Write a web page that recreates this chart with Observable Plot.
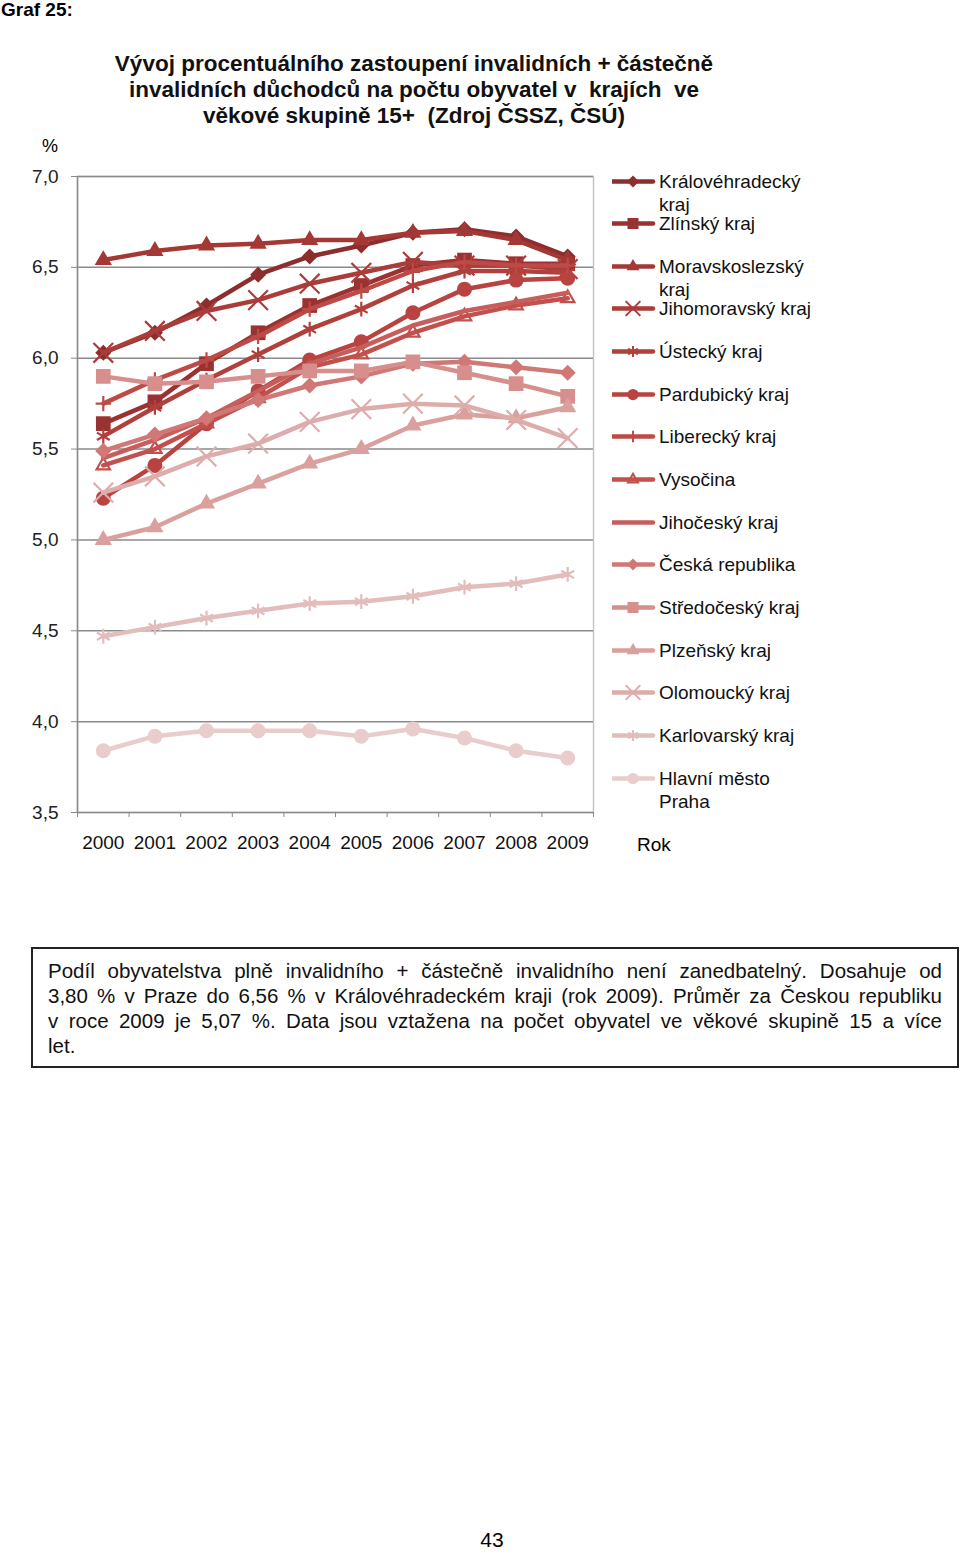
<!DOCTYPE html>
<html>
<head>
<meta charset="utf-8">
<script src="https://cdn.jsdelivr.net/npm/d3@7"></script>
<script src="https://cdn.jsdelivr.net/npm/@observablehq/plot@0.6"></script>
<style>
  html, body { margin: 0; padding: 0; background: #fff; }
  body { width: 960px; height: 1553px; position: relative; font-family: "Liberation Sans", Arial, sans-serif; color: #000; overflow: hidden; }
  .abs { position: absolute; }
  #graf { left: 1px; top: -1px; font-weight: bold; font-size: 19px; }
  #title { left: 64px; width: 700px; top: 51px; text-align: center; font-weight: bold; font-size: 22.5px; line-height: 26px; color: #111; white-space: nowrap; }
  #pct { left: 42px; top: 136px; font-size: 18px; }
  #chart { left: 0; top: 0; }
  .leg { position: absolute; left: 612px; display: flex; align-items: flex-start; }
  .leg svg { flex: none; }
  .leg div { margin-left: 3px; width: 160px; font-size: 19px; line-height: 23px; color: #111; }
  #rok { left: 637px; top: 834px; font-size: 19px; }
  #note { left: 31px; top: 947px; width: 894px; padding: 9px 15px 8px 15px; border: 2px solid #222; font-size: 20.5px; line-height: 25px; color: #111; }
  #note .jl { text-align: justify; text-align-last: justify; white-space: nowrap; }
  #page { left: 0; width: 984px; top: 1528px; text-align: center; font-size: 21px; }
</style>
</head>
<body>
<div id="graf" class="abs">Graf 25:</div>
<div id="title" class="abs">Vývoj procentuálního zastoupení invalidních + částečně<br>invalidních důchodců na počtu obyvatel v&nbsp; krajích&nbsp; ve<br>věkové skupině 15+&nbsp; (Zdroj ČSSZ, ČSÚ)</div>
<div id="pct" class="abs">%</div>
<div id="chart" class="abs"></div>
<div id="legend"></div>
<div id="rok" class="abs">Rok</div>
<div id="note" class="abs">
  <div class="jl">Podíl obyvatelstva plně invalidního + částečně invalidního není zanedbatelný. Dosahuje od</div>
  <div class="jl">3,80 % v Praze do 6,56 % v Královéhradeckém kraji (rok 2009). Průměr za Českou republiku</div>
  <div class="jl">v roce 2009 je 5,07 %. Data jsou vztažena na počet obyvatel ve věkové skupině 15 a více</div>
  <div>let.</div>
</div>
<div id="page" class="abs">43</div>
<script>
// ---- data ----
const years = [2000, 2001, 2002, 2003, 2004, 2005, 2006, 2007, 2008, 2009];
const yTicks = [3.5, 4.0, 4.5, 5.0, 5.5, 6.0, 6.5, 7.0];
const regionNames = [
  "Královéhradecký kraj", "Zlínský kraj", "Moravskoslezský kraj", "Jihomoravský kraj",
  "Ústecký kraj", "Pardubický kraj", "Liberecký kraj", "Vysočina", "Jihočeský kraj",
  "Česká republika", "Středočeský kraj", "Plzeňský kraj", "Olomoucký kraj",
  "Karlovarský kraj", "Hlavní město Praha"
];
const kralovehradecky = [6.03, 6.14, 6.29, 6.46, 6.56, 6.62, 6.69, 6.71, 6.67, 6.56];
const zlinsky         = [5.64, 5.76, 5.97, 6.14, 6.29, 6.40, 6.51, 6.54, 6.52, 6.52];
const moravskoslezsky = [6.54, 6.59, 6.62, 6.63, 6.65, 6.65, 6.69, 6.70, 6.65, 6.54];
const jihomoravsky    = [6.03, 6.15, 6.26, 6.32, 6.41, 6.47, 6.53, 6.51, 6.51, 6.49];
const ustecky         = [5.57, 5.73, 5.88, 6.02, 6.16, 6.27, 6.40, 6.48, 6.48, 6.47];
const pardubicky      = [5.23, 5.41, 5.64, 5.82, 5.99, 6.09, 6.25, 6.38, 6.43, 6.44];
const liberecky       = [5.75, 5.88, 5.99, 6.12, 6.27, 6.37, 6.48, 6.53, 6.51, 6.51];
const vysocina        = [5.41, 5.50, 5.64, 5.78, 5.95, 6.02, 6.14, 6.23, 6.29, 6.33];
const jihocesky       = [5.45, 5.55, 5.67, 5.82, 5.97, 6.06, 6.18, 6.26, 6.31, 6.36];
const ceskaRepublika  = [5.49, 5.58, 5.67, 5.77, 5.85, 5.90, 5.97, 5.98, 5.95, 5.92];
const stredocesky     = [5.90, 5.86, 5.87, 5.90, 5.93, 5.93, 5.98, 5.92, 5.86, 5.79];
const plzensky        = [5.00, 5.07, 5.20, 5.31, 5.42, 5.50, 5.63, 5.69, 5.67, 5.73];
const olomoucky       = [5.26, 5.35, 5.46, 5.53, 5.65, 5.72, 5.75, 5.74, 5.66, 5.56];
const karlovarsky     = [4.47, 4.52, 4.57, 4.61, 4.65, 4.66, 4.69, 4.74, 4.76, 4.81];
const praha           = [3.84, 3.92, 3.95, 3.95, 3.95, 3.92, 3.96, 3.91, 3.84, 3.80];

const seriesValues = [kralovehradecky, zlinsky, moravskoslezsky, jihomoravsky, ustecky,
  pardubicky, liberecky, vysocina, jihocesky, ceskaRepublika, stredocesky, plzensky,
  olomoucky, karlovarsky, praha];

// ---- styles ----
const diamondSym = {
  draw(ctx, size) {
    const h = Math.sqrt(size / 2);
    ctx.moveTo(0, -h); ctx.lineTo(h, 0); ctx.lineTo(0, h); ctx.lineTo(-h, 0); ctx.closePath();
  }
};
const styles = [
  {color: "#8c2e2d", symbol: diamondSym, r: 6.4, filled: true},
  {color: "#9a3231", symbol: "square", r: 8.3, filled: true},
  {color: "#a43835", symbol: "triangle", r: 6.4, filled: true},
  {color: "#aa3c39", symbol: "times", r: 9, filled: false},
  {color: "#b1403d", symbol: "asterisk", r: 7, filled: false},
  {color: "#b84340", symbol: "circle", r: 7.5, filled: true},
  {color: "#bd4a46", symbol: "plus", r: 5, filled: false},
  {color: "#c2504d", symbol: "triangle2", r: 6.4, filled: false},
  {color: "#c85e5b", symbol: null, r: 0, filled: true},
  {color: "#cf7876", symbol: diamondSym, r: 6.4, filled: true},
  {color: "#d68f8d", symbol: "square", r: 8.3, filled: true},
  {color: "#d9a09e", symbol: "triangle", r: 6.4, filled: true},
  {color: "#ddadab", symbol: "times", r: 9, filled: false},
  {color: "#e2bdbc", symbol: "asterisk", r: 7, filled: false},
  {color: "#e8cdcc", symbol: "circle", r: 7.5, filled: true}
];

// ---- chart ----
const xDomain = [years[0] - 0.5, years[years.length - 1] + 0.5];
const bandEdges = d3.range(xDomain[0], xDomain[1] + 0.01, 1);
const fmt = d => d.toFixed(1).replace(".", ",");

const marks = [
  Plot.frame({stroke: "#c4c4c4", strokeWidth: 1.5}),
  Plot.gridY(yTicks, {stroke: "#8a8a8a", strokeOpacity: 1, strokeWidth: 1.5}),
  Plot.ruleX([xDomain[0]], {stroke: "#8a8a8a", strokeWidth: 1.5}),
  Plot.axisY(yTicks, {tickFormat: fmt, tickSize: 6, tickPadding: 13, stroke: "#8a8a8a", fontSize: 19, fill: "#222", label: null}),
  Plot.axisX(bandEdges, {tickSize: 5, tickFormat: () => "", stroke: "#8a8a8a", label: null}),
  Plot.axisX(years, {tickSize: 0, tickPadding: 23, tickFormat: d => String(d), fontSize: 19, fill: "#111", label: null})
];

seriesValues.forEach((vals, i) => {
  const st = styles[i];
  const data = years.map((yr, j) => ({year: yr, value: vals[j]}));
  marks.push(Plot.line(data, {x: "year", y: "value", stroke: st.color, strokeWidth: 4.5, curve: "linear"}));
  if (st.symbol) {
    marks.push(Plot.dot(data, {
      x: "year", y: "value", symbol: () => st.symbol, r: st.r,
      fill: st.filled ? st.color : "none",
      stroke: st.filled ? "none" : st.color,
      strokeWidth: st.filled ? 0 : 2.2
    }));
  }
});

const chart = Plot.plot({
  width: 600,
  height: 880,
  marginLeft: 77,
  marginRight: 7,
  marginTop: 176,
  marginBottom: 68,
  style: {fontFamily: "'Liberation Sans', Arial, sans-serif", fontSize: "19px", background: "transparent", overflow: "visible"},
  x: {domain: xDomain, type: "linear"},
  y: {domain: [3.5, 7.0]},
  marks
});
document.getElementById("chart").appendChild(chart);

// ---- legend ----
const legend = document.getElementById("legend");
const symMap = {square: d3.symbolSquare, triangle: d3.symbolTriangle, times: d3.symbolTimes,
  asterisk: d3.symbolAsterisk, circle: d3.symbolCircle, plus: d3.symbolPlus, triangle2: d3.symbolTriangle2};
regionNames.forEach((name, i) => {
  const st = styles[i];
  const item = document.createElement("div");
  item.className = "leg";
  const cy = 181 + i * 42.65;
  item.style.top = (cy - 11.5) + "px";
  const svg = d3.create("svg").attr("width", 44).attr("height", 23);
  svg.append("line").attr("x1", 0).attr("x2", 41).attr("y1", 11.5).attr("y2", 11.5)
    .attr("stroke", st.color).attr("stroke-width", 4.5).attr("stroke-linecap", "round");
  if (st.symbol) {
    const type = typeof st.symbol === "string" ? symMap[st.symbol] : st.symbol;
    const rr = st.r * 0.75;
    svg.append("path").attr("transform", "translate(21,11.5)")
      .attr("d", d3.symbol(type, Math.PI * rr * rr)())
      .attr("fill", st.filled ? st.color : "none")
      .attr("stroke", st.filled ? "none" : st.color)
      .attr("stroke-width", st.filled ? 0 : 2);
  }
  item.appendChild(svg.node());
  const t = document.createElement("div");
  t.textContent = name;
  item.appendChild(t);
  legend.appendChild(item);
});
</script>
</body>
</html>
